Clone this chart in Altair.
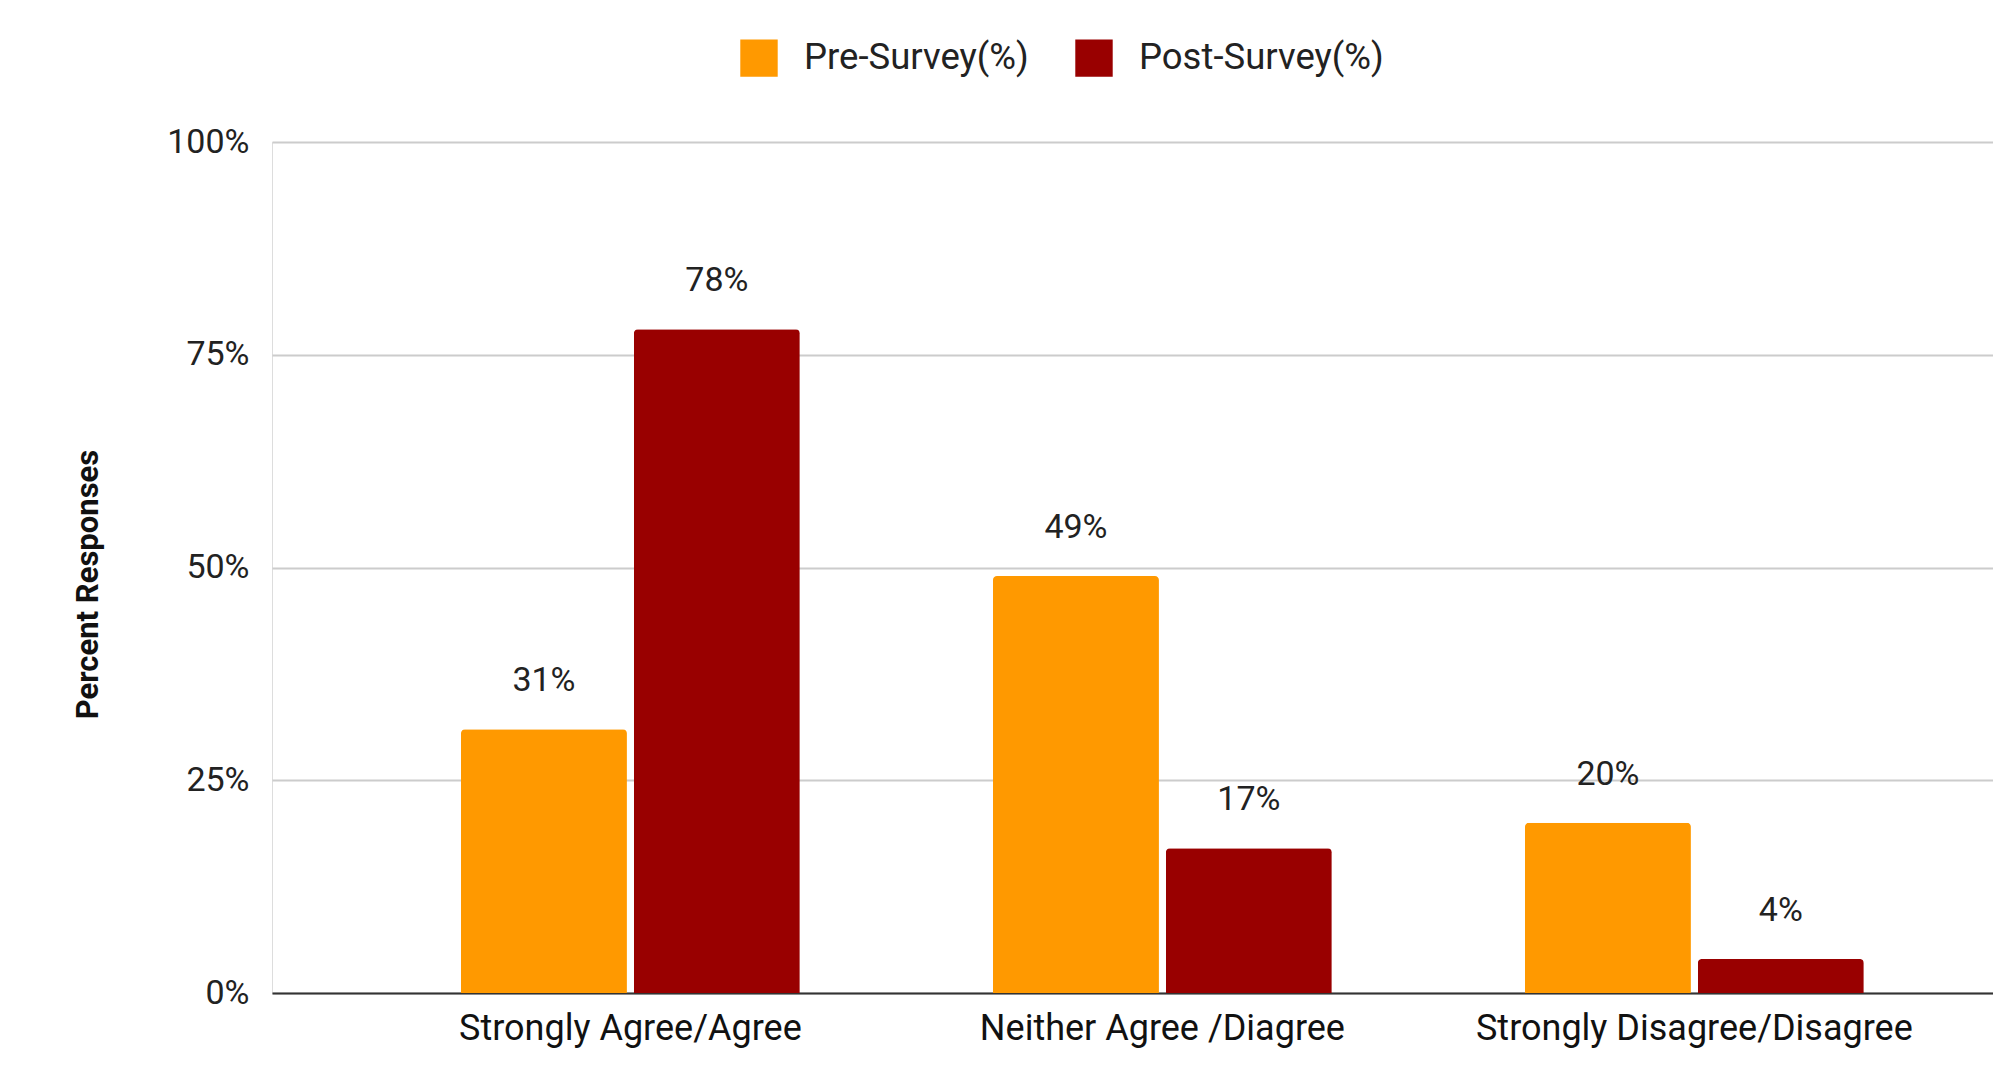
import altair as alt
import pandas as pd

categories = ["Strongly Agree/Agree", "Neither Agree /Diagree", "Strongly Disagree/Disagree"]
series = ["Pre-Survey(%)", "Post-Survey(%)"]
pre_values = [31, 49, 20]
post_values = [78, 17, 4]
y_ticks = [0, 25, 50, 75, 100]
colors = ["#FF9900", "#990000"]

rows = []
for c, v in zip(categories, pre_values):
    rows.append({"category": c, "series": series[0], "value": v})
for c, v in zip(categories, post_values):
    rows.append({"category": c, "series": series[1], "value": v})
df = pd.DataFrame(rows)
df["label"] = df["value"].astype(str) + "%"

FONT = "Roboto"

x_enc = alt.X(
    "category:N",
    sort=categories,
    scale=alt.Scale(paddingInner=0.363, paddingOuter=0.299, align=0.594),
    axis=alt.Axis(
        title=None, labelAngle=0, labelFontSize=36, labelFont=FONT, labelColor="#111",
        labelLimit=0, ticks=False, domainColor="#333", domainWidth=2, labelPadding=18, grid=False,
    ),
)
xoff = alt.XOffset("series:N", sort=series, scale=alt.Scale(paddingInner=0.04, paddingOuter=0))
y_enc = alt.Y(
    "value:Q",
    scale=alt.Scale(domain=[0, 100], nice=False),
    axis=alt.Axis(
        values=y_ticks, labelExpr="datum.value + '%'", labelFontSize=34, labelFont=FONT,
        labelColor="#222", ticks=False, domain=False, labelPadding=23,
        gridColor="#cccccc", gridWidth=2,
        title="Percent Responses", titleFont=FONT,
        titleFontSize=31, titleFontWeight="bold",
        titleColor="#111", titleAngle=270, titleAlign="center", titleBaseline="middle",
        titleX=-184, titleY=442,
    ),
)

bars = alt.Chart(df).mark_bar(cornerRadiusTopLeft=4, cornerRadiusTopRight=4).encode(
    x=x_enc,
    xOffset=xoff,
    y=y_enc,
    color=alt.Color(
        "series:N",
        sort=series,
        scale=alt.Scale(domain=series, range=colors),
        legend=alt.Legend(
            title=None, orient="none", direction="horizontal", legendX=468, legendY=-103,
            symbolType="square", symbolSize=1400, symbolStrokeWidth=0,
            labelFont=FONT, labelFontSize=36.5, labelColor="#222", labelLimit=0,
            labelOffset=26, columnPadding=46, padding=0,
        ),
    ),
)

labels = alt.Chart(df).mark_text(
    baseline="alphabetic", dy=-38, fontSize=34, font=FONT, color="#222"
).encode(
    x=alt.X("category:N", sort=categories),
    xOffset=alt.XOffset("series:N", sort=series),
    y=alt.Y("value:Q"),
    text="label:N",
)

chart = (
    alt.layer(bars, labels)
    .properties(
        width=1721,
        height=851,
        autosize=alt.AutoSizeParams(type="none"),
        padding={"left": 264, "top": 134, "right": 0, "bottom": 60},
    )
    .configure_view(stroke=None)
    .configure(background="white")
)

chart.save("out.html", embed_options={"renderer": "svg", "actions": False})
